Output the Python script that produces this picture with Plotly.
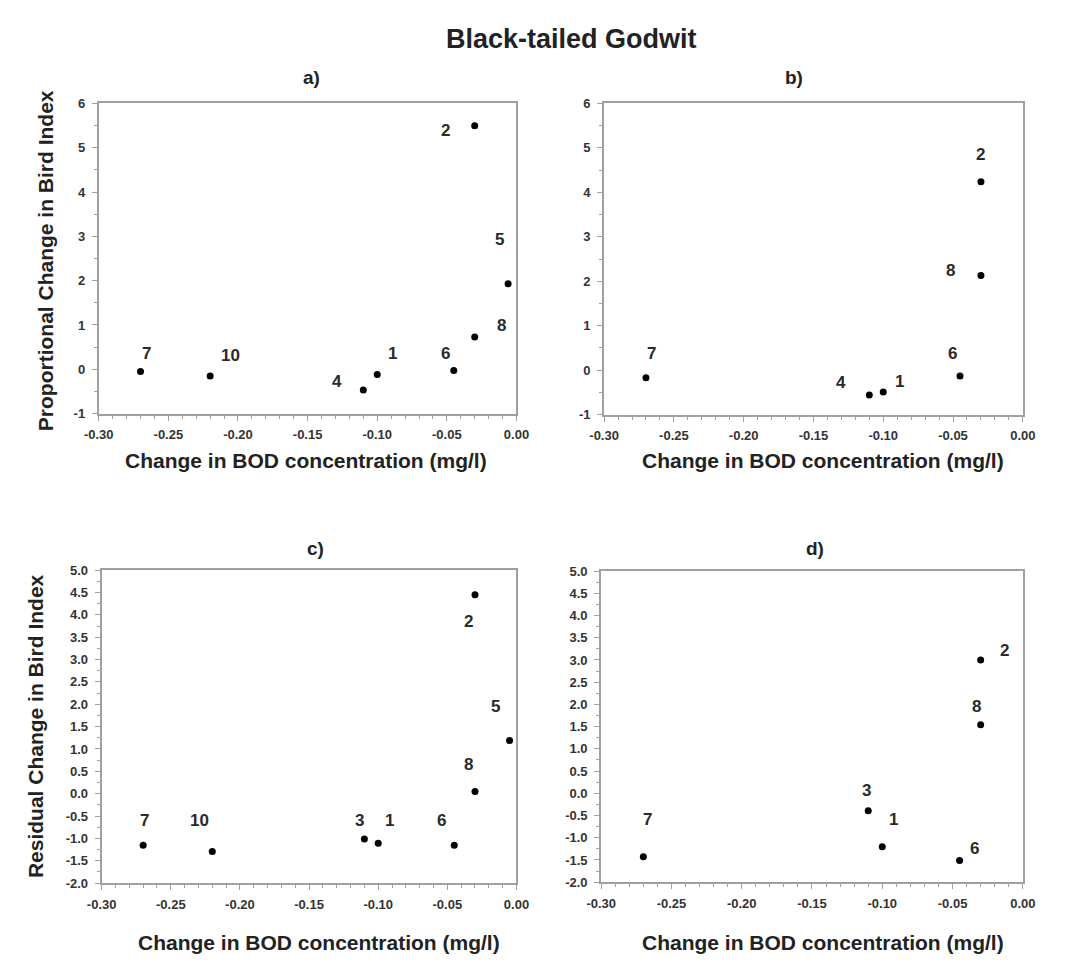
import plotly.graph_objects as go

# ---------------- data ----------------
a_ids = ["7", "10", "4", "1", "6", "8", "2", "5"]
a_x = [-0.27, -0.22, -0.11, -0.10, -0.045, -0.03, -0.03, -0.006]
a_y = [-0.05, -0.15, -0.47, -0.12, -0.03, 0.73, 5.5, 1.93]

b_ids = ["7", "4", "1", "6", "8", "2"]
b_x = [-0.27, -0.11, -0.10, -0.045, -0.03, -0.03]
b_y = [-0.17, -0.56, -0.49, -0.13, 2.13, 4.24]

c_ids = ["7", "10", "3", "1", "6", "8", "2", "5"]
c_x = [-0.27, -0.22, -0.11, -0.10, -0.045, -0.03, -0.03, -0.005]
c_y = [-1.15, -1.29, -1.01, -1.11, -1.15, 0.05, 4.45, 1.19]

d_ids = ["7", "3", "1", "6", "8", "2"]
d_x = [-0.27, -0.11, -0.10, -0.045, -0.03, -0.03]
d_y = [-1.43, -0.39, -1.20, -1.51, 1.54, 3.0]

x_tickvals = [-0.30, -0.25, -0.20, -0.15, -0.10, -0.05, 0.00]
x_ticktext = ["-0.30", "-0.25", "-0.20", "-0.15", "-0.10", "-0.05", "0.00"]
ya_tickvals = [-1, 0, 1, 2, 3, 4, 5, 6]
ya_ticktext = ["-1", "0", "1", "2", "3", "4", "5", "6"]
yc_tickvals = [-2.0, -1.5, -1.0, -0.5, 0.0, 0.5, 1.0, 1.5, 2.0, 2.5, 3.0, 3.5, 4.0, 4.5, 5.0]
yc_ticktext = ["-2.0", "-1.5", "-1.0", "-0.5", "0.0", "0.5", "1.0", "1.5", "2.0",
               "2.5", "3.0", "3.5", "4.0", "4.5", "5.0"]

title_text = "Black-tailed Godwit"
panel_titles = ["a)", "b)", "c)", "d)"]
x_title = "Change in BOD concentration (mg/l)"
y_title_top = "Proportional Change in Bird Index"
y_title_bottom = "Residual Change in Bird Index"

# label offsets (pixels: right, up) - styling only
a_off = [(6, 18), (20, 20), (-26, 9), (15, 21), (-8, 17), (27, 11), (-29, -5), (-9, 44)]
b_off = [(6, 24), (-28, 13), (16, 10), (-8, 22), (-30, 5), (0, 27)]
c_off = [(1, 25), (-13, 31), (-5, 18), (11, 23), (-13, 25), (-6, 27), (-6, -27), (-14, 34)]
d_off = [(4, 37), (-2, 20), (11, 27), (15, 12), (-4, 18), (24, 9)]

# ---------------- layout ----------------
W, H = 1066, 965
FONT = "Liberation Sans, Arial, sans-serif"
AXC = "#a0a0a0"
TXT = "#222222"

panels = [
    # xs, ys, ids, offsets, x-domain px, y-domain px (top,bottom), y ticks
    (a_x, a_y, a_ids, a_off, (86, 515), (98, 413), ya_tickvals, ya_ticktext, [-1, 6], 0.5),
    (b_x, b_y, b_ids, b_off, (605, 1035), (98, 414), ya_tickvals, ya_ticktext, [-1, 6], 0.5),
    (c_x, c_y, c_ids, c_off, (89, 515), (572, 890), yc_tickvals, yc_ticktext, [-2, 5], 0.25),
    (d_x, d_y, d_ids, d_off, (602, 1035), (573, 889), yc_tickvals, yc_ticktext, [-2, 5], 0.25),
]

fig = go.Figure()
annotations = []
layout = dict(
    width=W, height=H,
    margin=dict(l=0, r=0, t=0, b=0),
    paper_bgcolor="white", plot_bgcolor="white",
    showlegend=False,
    font=dict(family=FONT, color=TXT),
)

for i, (xs, ys, ids, offs, xd, yd, ytv, ytt, yr, yminor) in enumerate(panels):
    n = i + 1
    xa = "xaxis" if n == 1 else f"xaxis{n}"
    ya = "yaxis" if n == 1 else f"yaxis{n}"
    xref = "x" if n == 1 else f"x{n}"
    yref = "y" if n == 1 else f"y{n}"
    fig.add_trace(go.Scatter(
        x=xs, y=ys, mode="markers", xaxis=xref, yaxis=yref,
        marker=dict(color="black", size=7), cliponaxis=False, hoverinfo="skip"))
    common = dict(showline=True, linecolor=AXC, linewidth=2, mirror=True,
                  showgrid=False, zeroline=False, ticks="outside", ticklen=5,
                  tickwidth=1, tickcolor=AXC,
                  tickfont=dict(family=FONT, size=13, color="#333333", weight="bold"))
    layout[xa] = dict(common, domain=[xd[0] / W, xd[1] / W], range=[-0.30, 0.0],
                      anchor=yref, tickmode="array", tickvals=x_tickvals,
                      ticktext=x_ticktext, ticklabelstandoff=3,
                      minor=dict(tickmode="linear", tick0=-0.30, dtick=0.01,
                                 ticks="outside", ticklen=3, tickcolor=AXC))
    layout[ya] = dict(common, domain=[1 - yd[1] / H, 1 - yd[0] / H], range=yr,
                      anchor=xref, tickmode="array", tickvals=ytv, ticktext=ytt,
                      ticklabelstandoff=4,
                      minor=dict(tickmode="linear", tick0=yr[0], dtick=yminor,
                                 ticks="outside", ticklen=3, tickcolor=AXC))
    for lab, xv, yv, (dx, dy) in zip(ids, xs, ys, offs):
        annotations.append(dict(
            x=xv, y=yv, xref=xref, yref=yref, text=f"<b>{lab}</b>", showarrow=False,
            xshift=dx, yshift=dy, font=dict(family=FONT, size=17, color="#2a2a2a")))

# panel titles
for txt, (cx, cy) in zip(panel_titles, [(305, 72), (800, 72), (309, 550), (822, 550)]):
    annotations.append(dict(x=cx / W, y=1 - cy / H, xref="paper", yref="paper",
                            text=f"<b>{txt}</b>", showarrow=False,
                            xanchor="center", yanchor="middle",
                            font=dict(family=FONT, size=19, color=TXT)))
# main title
annotations.append(dict(x=571 / W, y=1 - 32 / H, xref="paper", yref="paper",
                        text=f"<b>{title_text}</b>", showarrow=False,
                        xanchor="center", yanchor="middle",
                        font=dict(family=FONT, size=27, color=TXT)))
# x-axis titles
for (cx, cy) in [(299, 461), (830, 461), (312, 950), (830, 950)]:
    annotations.append(dict(x=cx / W, y=1 - cy / H, xref="paper", yref="paper",
                            text=f"<b>{x_title}</b>", showarrow=False,
                            xanchor="center", yanchor="middle",
                            font=dict(family=FONT, size=21, color=TXT)))
# y-axis titles
annotations.append(dict(x=32 / W, y=1 - 258 / H, xref="paper", yref="paper",
                        text=f"<b>{y_title_top}</b>", showarrow=False, textangle=-90,
                        xanchor="center", yanchor="middle",
                        font=dict(family=FONT, size=21, color=TXT)))
annotations.append(dict(x=21 / W, y=1 - 730 / H, xref="paper", yref="paper",
                        text=f"<b>{y_title_bottom}</b>", showarrow=False, textangle=-90,
                        xanchor="center", yanchor="middle",
                        font=dict(family=FONT, size=21, color=TXT)))

layout["annotations"] = annotations
fig.update_layout(**layout)
fig.write_html("out.html",
               config={"displayModeBar": False},
               post_script="document.body.style.margin='0px';document.body.style.overflow='hidden';")
